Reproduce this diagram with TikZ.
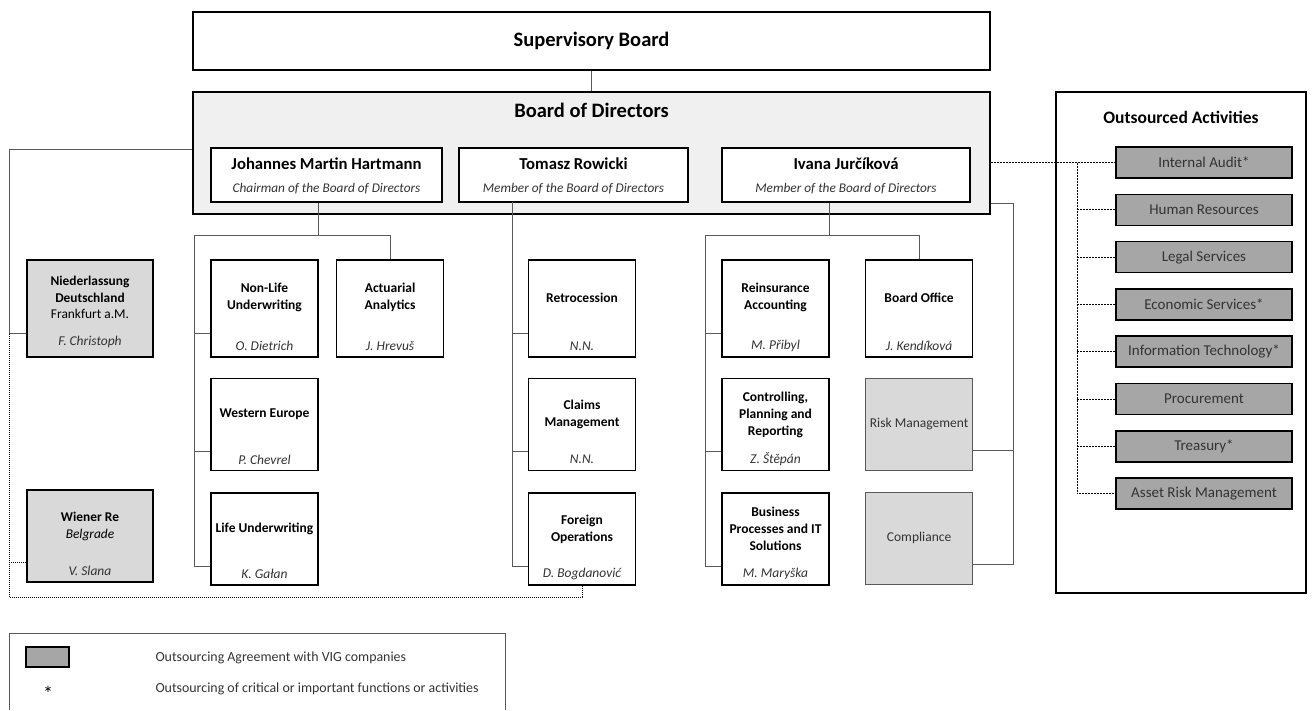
\documentclass[tikz,border=0pt]{standalone}
\usepackage{fontspec}
\setmainfont{Carlito}
\usepackage{tikz}
\usetikzlibrary{positioning}

\definecolor{linegray}{HTML}{595959}
\definecolor{bodfill}{HTML}{F0F0F0}
\definecolor{unitfill}{HTML}{D9D9D9}
\definecolor{outfill}{HTML}{A6A6A6}
\definecolor{txtgray}{HTML}{333333}

\begin{document}
\begin{tikzpicture}[x=1pt, y=-1pt,
    box/.style={draw, line width=1.6pt, inner sep=0pt, fill=white},
    unit/.style={box, minimum width=107pt, minimum height=92pt},
    grayunit/.style={draw=linegray, line width=0.8pt, fill=unitfill, inner sep=0pt, minimum width=107pt, minimum height=92pt},
    outitem/.style={box, fill=outfill, minimum width=176pt, minimum height=31pt, font=\fontsize{15}{17}\selectfont, text=txtgray},
    head/.style={align=center, font=\fontsize{13.5}{17}\selectfont\bfseries},
    who/.style={font=\fontsize{13.5}{15}\selectfont\itshape, text=txtgray},
    member/.style={font=\fontsize{16.7}{19}\selectfont\bfseries},
    role/.style={font=\fontsize{13.3}{15}\selectfont\itshape, text=txtgray},
    link/.style={draw=linegray, line width=1pt},
    outlink/.style={draw=black, line width=0.7pt, dash pattern=on 2pt off 1pt},
    dotlink/.style={draw=black, line width=0.7pt, dash pattern=on 1pt off 1pt},
    legtext/.style={anchor=west, font=\fontsize{13.9}{16}\selectfont, text=txtgray}]

\useasboundingbox (0,0) rectangle (1312,710);

% boards
\node[box, minimum width=797pt, minimum height=58pt, font=\fontsize{20.5}{24}\selectfont\bfseries] (sb) at (591.5,41) {Supervisory Board};
\node[box, fill=bodfill, minimum width=797pt, minimum height=122pt] (bod) at (591.5,153) {};
\node[font=\fontsize{20.5}{24}\selectfont\bfseries] (bodtitle) at ([yshift=-19pt]bod.north) {Board of Directors};
\draw[link] (sb.south) -- (bod.north);

\node[box, minimum width=231pt, minimum height=54pt] (hart) at (326.5,175) {};
\node[box, minimum width=229pt, minimum height=54pt] (rowi) at (573.5,175) {};
\node[box, minimum width=248pt, minimum height=54pt] (ivana) at (846,175) {};
\node[member] at ([yshift=-16pt]hart.north) {Johannes Martin Hartmann};
\node[role] at ([yshift=14pt]hart.south) {Chairman of the Board of Directors};
\node[member] at ([yshift=-16pt]rowi.north) {Tomasz Rowicki};
\node[role] at ([yshift=14pt]rowi.south) {Member of the Board of Directors};
\node[member] at ([yshift=-16pt]ivana.north) {Ivana Jurčíková};
\node[role] at ([yshift=14pt]ivana.south) {Member of the Board of Directors};

% branches and subsidiaries
\node[box, fill=unitfill, minimum width=126pt, minimum height=97pt] (nl) at (90,308.5) {};
\node[box, fill=unitfill, minimum width=126pt, minimum height=92pt] (wr) at (90,536) {};
\node[align=center, font=\fontsize{13.4}{16.5}\selectfont] at ([yshift=11pt]nl.center) {\textbf{Niederlassung}\\\textbf{Deutschland}\\Frankfurt a.M.};
\node[who] at ([yshift=16pt]nl.south) {F. Christoph};
\node[align=center, font=\fontsize{13.4}{17}\selectfont] at ([yshift=10pt]wr.center) {\textbf{Wiener Re}\\\textit{Belgrade}};
\node[who] at ([yshift=12pt]wr.south) {V. Slana};

% Hartmann
\node[unit, minimum height=97pt] (nonlife) at (264.5,308.5) {};
\node[unit, minimum height=97pt, right=17pt of nonlife] (actu) {};
\node[unit, below=20pt of nonlife] (weu) {};
\node[unit, below=21pt of weu] (life) {};
\node[head] at ([yshift=11pt]nonlife.center) {Non-Life\\Underwriting};
\node[who] at ([yshift=12pt]nonlife.south) {O. Dietrich};
\node[head] at ([yshift=11pt]actu.center) {Actuarial\\Analytics};
\node[who] at ([yshift=12pt]actu.south) {J. Hrevuš};
\node[head] at ([yshift=10pt]weu.center) {Western Europe};
\node[who] at ([yshift=12pt]weu.south) {P. Chevrel};
\node[head] at ([yshift=10pt]life.center) {Life Underwriting};
\node[who] at ([yshift=12pt]life.south) {K. Gałan};

% Rowicki
\node[unit, minimum height=97pt] (retro) at (582,308.5) {};
\node[unit, below=20pt of retro] (claims) {};
\node[unit, below=21pt of claims] (foreign) {};
\node[head] at ([yshift=11pt]retro.center) {Retrocession};
\node[who] at ([yshift=12pt]retro.south) {N.N.};
\node[head] at ([yshift=10pt]claims.center) {Claims\\Management};
\node[who] at ([yshift=12pt]claims.south) {N.N.};
\node[head] at ([yshift=10pt]foreign.center) {Foreign\\Operations};
\node[who] at ([yshift=12pt]foreign.south) {D. Bogdanović};

% Jurcikova
\node[unit, minimum height=97pt] (reins) at (775.5,308.5) {};
\node[unit, minimum height=97pt, right=35pt of reins] (boff) {};
\node[unit, below=20pt of reins] (contr) {};
\node[unit, below=21pt of contr] (bpit) {};
\node[grayunit, below=20pt of boff] (risk) {};
\node[grayunit, below=21pt of risk] (compl) {};
\node[head] at ([yshift=11pt]reins.center) {Reinsurance\\Accounting};
\node[who] at ([yshift=12pt]reins.south) {M. Přibyl};
\node[head] at ([yshift=11pt]boff.center) {Board Office};
\node[who] at ([yshift=12pt]boff.south) {J. Kendíková};
\node[head] at ([yshift=10pt]contr.center) {Controlling,\\Planning and\\Reporting};
\node[who] at ([yshift=12pt]contr.south) {Z. Štěpán};
\node[head] at ([yshift=10pt]bpit.center) {Business\\Processes and IT\\Solutions};
\node[who] at ([yshift=12pt]bpit.south) {M. Maryška};
\node[font=\fontsize{13.5}{15}\selectfont, text=txtgray] at (risk.center) {Risk Management};
\node[font=\fontsize{13.5}{15}\selectfont, text=txtgray] at (compl.center) {Compliance};

% outsourced activities
\node[box, minimum width=250pt, minimum height=501pt] (outs) at (1181,342.5) {};
\node[font=\fontsize{17.5}{20}\selectfont\bfseries] (outtitle) at ([yshift=-26pt]outs.north) {Outsourced Activities};
\foreach \txt [count=\i from 0] in {Internal Audit*, Human Resources, Legal Services, Economic Services*, Information Technology*, Procurement, Treasury*, Asset Risk Management}
  \node[outitem] (oa\i) at (1204,162.5+47.3*\i) {\txt};

% connectors
\coordinate (lft) at (9,149);
\coordinate (nlb) at ([yshift=24pt]nl.south west);
\coordinate (wrb) at ([yshift=20pt]wr.south west);
\draw[link] (bod.west |- lft) -- (lft) |- (nlb);
\draw[dotlink] (lft |- nlb) |- ([yshift=-11pt]foreign.south) -- (foreign.south);
\draw[dotlink] (lft |- wrb) -- (wrb);

\coordinate (hbus) at (194,235);
\coordinate (nonlifeb) at ([yshift=24pt]nonlife.south west);
\coordinate (weub) at ([yshift=20pt]weu.south west);
\coordinate (lifeb) at ([yshift=20pt]life.south west);
\draw[link] (hart.south -| nonlife.east) |- (hbus) |- (lifeb);
\draw[link] (hbus) -| (actu.north);
\draw[link] (hbus |- nonlifeb) -- (nonlifeb);
\draw[link] (hbus |- weub) -- (weub);

\coordinate (rbus) at (512,202);
\coordinate (retrob) at ([yshift=24pt]retro.south west);
\coordinate (claimsb) at ([yshift=20pt]claims.south west);
\coordinate (foreignb) at ([yshift=20pt]foreign.south west);
\draw[link] (rbus) |- (foreignb);
\draw[link] (rbus |- retrob) -- (retrob);
\draw[link] (rbus |- claimsb) -- (claimsb);

\coordinate (jbus) at (705,235);
\coordinate (reinsb) at ([yshift=24pt]reins.south west);
\coordinate (contrb) at ([yshift=20pt]contr.south west);
\coordinate (bpitb) at ([yshift=20pt]bpit.south west);
\draw[link] (ivana.south -| reins.east) |- (jbus) |- (bpitb);
\draw[link] (jbus) -| (boff.north);
\draw[link] (jbus |- reinsb) -- (reinsb);
\draw[link] (jbus |- contrb) -- (contrb);

\coordinate (rgt) at (1013,203);
\coordinate (riskb) at ([yshift=20pt]risk.south east);
\coordinate (complb) at ([yshift=20pt]compl.south east);
\draw[link] (bod.east |- rgt) -- (rgt) |- (complb);
\draw[link] (rgt |- riskb) -- (riskb);

\coordinate (obus) at (1077,162.5);
\draw[outlink] (bod.east |- oa0.west) -- (oa0.west);
\draw[outlink] (obus) |- (oa7.west);
\foreach \i in {1,...,6}
  \draw[outlink] (obus |- oa\i.west) -- (oa\i.west);

% legend
\draw[draw=linegray, line width=1pt] (9,710) |- (505,633) -- (505,710);
\node[box, fill=outfill, minimum width=43pt, minimum height=20pt] (swatch) at (47.5,657) {};
\node[legtext] (legone) at (152,658) {Outsourcing Agreement with VIG companies};
\node[font=\fontsize{20}{22}\selectfont] (star) at (48,693) {*};
\node[legtext] (legtwo) at (152,689) {Outsourcing of critical or important functions or activities};

\end{tikzpicture}
\end{document}
